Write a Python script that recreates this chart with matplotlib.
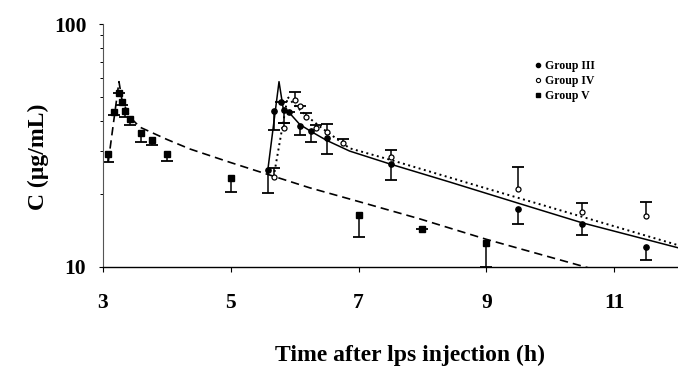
import matplotlib
matplotlib.use("Agg")
import matplotlib.pyplot as plt
from matplotlib.lines import Line2D

plt.rcParams['font.family'] = ['Liberation Serif', 'DejaVu Serif']
plt.rcParams['font.weight'] = 'bold'

# Group V (filled squares), error bars drawn downward
t5 = [3.083, 3.17, 3.25, 3.29, 3.34, 3.42, 3.59, 3.76, 4.0, 5.0, 7.0, 8.0, 9.0]
c5 = [29.1, 43.6, 52.2, 47.9, 44.0, 40.5, 35.5, 33.3, 29.2, 23.3, 16.3, 14.3, 12.5]
c5_low = [27.1, 42.2, 52.2, 46.4, 41.6, 38.4, 32.8, 31.7, 27.3, 20.3, 13.3, 14.3, 10.0]

# Group III (filled circles), error bars downward
t3 = [5.58, 5.67, 5.78, 5.83, 5.91, 6.08, 6.25, 6.5, 7.5, 9.5, 10.5, 11.5]
c3 = [25.1, 43.9, 47.9, 44.3, 43.6, 38.2, 36.3, 33.9, 26.5, 17.3, 15.0, 12.1]
c3_low = [20.1, 36.6, 47.9, 39.0, 43.6, 34.9, 32.8, 29.2, 22.8, 15.1, 13.6, 10.7]

# Group IV (open circles), error bars upward
t4 = [5.67, 5.83, 6.0, 6.08, 6.17, 6.33, 6.5, 6.75, 7.5, 9.5, 10.5, 11.5]
c4 = [23.4, 37.2, 48.7, 46.0, 41.6, 37.2, 36.1, 32.5, 28.3, 20.9, 16.9, 16.2]
c4_high = [25.5, 39.0, 52.7, 46.0, 42.9, 38.4, 38.8, 33.6, 30.3, 25.7, 18.3, 18.6]

# model curves
fit5_t = [3.083, 3.25, 3.297, 3.42, 3.58, 3.81, 4.0, 4.36, 4.98, 5.61, 6.23, 7.0, 7.95, 9.0, 10.61, 12.0]
fit5_c = [27.1, 57.9, 48.7, 41.4, 37.6, 35.3, 33.5, 30.6, 27.0, 23.9, 21.2, 18.6, 15.8, 13.0, 9.9, 7.7]

fit3_t = [5.58, 5.755, 5.82, 5.91, 6.08, 6.25, 6.5, 6.86, 7.5, 8.42, 9.5, 10.5, 12.0]
fit3_c = [25.1, 57.9, 45.0, 43.3, 38.6, 36.2, 33.2, 30.0, 26.5, 22.4, 18.3, 15.2, 12.0]

fit4_t = [5.67, 5.89, 6.0, 6.2, 6.42, 6.63, 6.86, 7.5, 8.73, 12.0]
fit4_c = [23.4, 50.1, 46.4, 41.6, 37.4, 34.1, 30.8, 27.6, 22.1, 12.3]

xticks = [3, 5, 7, 9, 11]

fig = plt.figure(figsize=(6.78, 3.68), dpi=100)
ax = fig.add_axes([103/678, 1-267/368, 1-103/678, (267-24)/368])

ax.plot(fit5_t, fit5_c, color='black', lw=1.2, ls=(0, (5, 3)))
ax.plot(fit3_t, fit3_c, color='black', lw=1.1, ls='-')
ax.plot(fit4_t, fit4_c, color='black', lw=1.4, ls=(0, (1, 1.8)))

# error bars (one-sided)
ax.vlines(t5, c5_low, c5, color='black', lw=1.1)
ax.plot(t5, c5_low, ls='none', marker='_', ms=8, mew=1.3, color='black')
ax.vlines(t3, c3_low, c3, color='black', lw=1.1)
ax.plot(t3, c3_low, ls='none', marker='_', ms=8, mew=1.3, color='black')
ax.vlines(t4, c4, c4_high, color='black', lw=1.1)
ax.plot(t4, c4_high, ls='none', marker='_', ms=8, mew=1.3, color='black')

ax.plot(t5, c5, ls='none', marker='s', ms=4.2, color='black')
ax.plot(t3, c3, ls='none', marker='o', ms=3.8, color='black')
ax.plot(t4, c4, ls='none', marker='o', ms=3.6, mfc='white', mec='black', mew=0.9)

ax.set_yscale('log')
ax.set_ylim(10, 100)
ax.set_xlim(3, 12)
ax.set_xticks(xticks)
ax.set_xticklabels([str(x) for x in xticks])
ax.set_yticks([10, 100])
ax.set_yticklabels(['10', '100'])
ax.yaxis.set_minor_locator(matplotlib.ticker.LogLocator(subs=range(2, 10)))
ax.yaxis.set_minor_formatter(matplotlib.ticker.NullFormatter())

for s in ['top', 'right']:
    ax.spines[s].set_visible(False)
ax.spines['left'].set_linewidth(0.8)
ax.spines['bottom'].set_linewidth(1.0)
ax.spines['left'].set_color('#555555')

ax.tick_params(axis='x', direction='out', length=3.5, width=0.8, pad=15, labelsize=15.5)
ax.tick_params(axis='y', which='major', direction='out', length=3, width=0.8, pad=9, labelsize=15.5)
ax.tick_params(axis='y', which='minor', direction='out', length=2.5, width=0.7)

fig.text(410/678, 1-355/368, 'Time after lps injection (h)', ha='center', va='center',
         fontsize=17, fontweight='bold')
fig.text(38/678, 1-157/368, 'C (µg/mL)', ha='center', va='center', rotation=90,
         fontsize=17, fontweight='bold')

handles = [
    Line2D([], [], ls='none', marker='o', ms=3, color='black'),
    Line2D([], [], ls='none', marker='o', ms=3, mfc='white', mec='black', mew=0.8),
    Line2D([], [], ls='none', marker='s', ms=3.2, color='black'),
]
fig.legend(handles, ['Group III', 'Group IV', 'Group V'], loc='upper left',
           bbox_to_anchor=(534/678, 1-60/368), frameon=False, fontsize=8.5,
           handlelength=0.6, handletextpad=0.3, labelspacing=0.25, borderpad=0,
           borderaxespad=0)

fig.savefig('out.png', dpi=100)
